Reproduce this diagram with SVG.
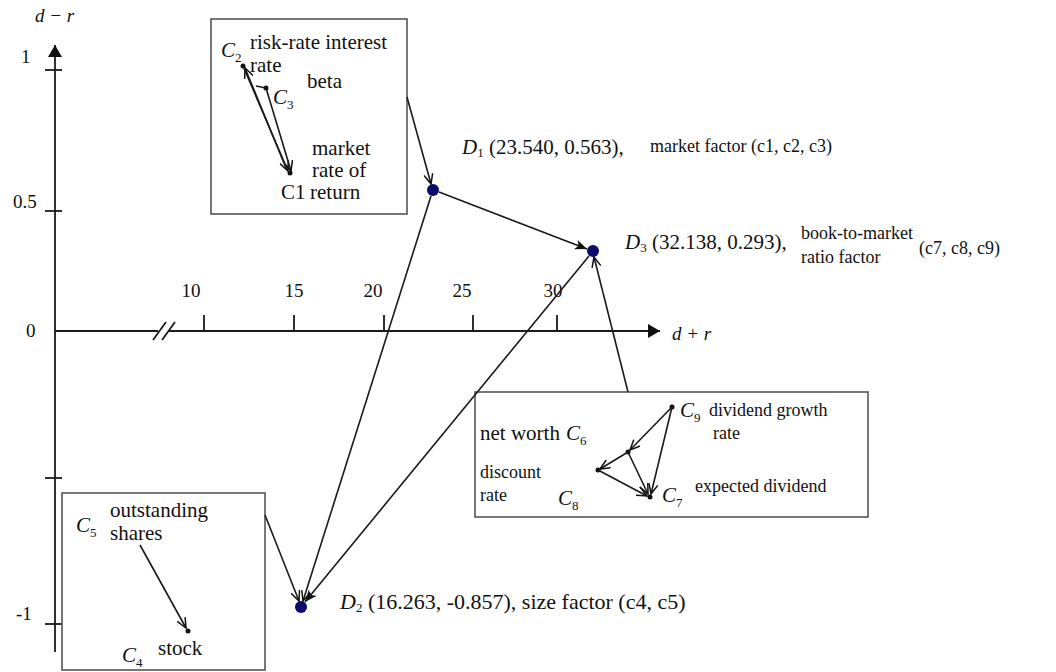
<svg xmlns="http://www.w3.org/2000/svg" width="1056" height="672" viewBox="0 0 1056 672">
<style>
.t{font-family:"Liberation Serif","Times New Roman",serif;font-size:21px;fill:#111}
.m{font-size:18px}
.sm{font-size:18px}
.big{font-size:22px}
.ax{font-family:"Liberation Serif","Times New Roman",serif;font-size:19px;fill:#111}
.i{font-style:italic}
.s{font-size:13px}
.box{fill:#fff;stroke:#555;stroke-width:1.6}
.ln{stroke:#1a1a1a;stroke-width:1.6;fill:none}
.axis{stroke:#1a1a1a;stroke-width:1.8;fill:none}
.pt{fill:#0b0b6b}
.dot{fill:#111}
</style>
<defs>
<marker id="fa" viewBox="0 0 12 10" refX="12" refY="5" markerWidth="12" markerHeight="10" markerUnits="userSpaceOnUse" orient="auto">
<path d="M0,0 L12,5 L0,10 L3,5 Z" fill="#111"/>
</marker>
<marker id="va" viewBox="0 0 12 10" refX="11" refY="5" markerWidth="12" markerHeight="10" markerUnits="userSpaceOnUse" orient="auto">
<path d="M1,0.5 L11,5 L1,9.5" fill="none" stroke="#111" stroke-width="1.5"/>
</marker>
<marker id="ah" viewBox="0 0 12 14" refX="12" refY="7" markerWidth="12" markerHeight="14" markerUnits="userSpaceOnUse" orient="auto">
<path d="M0,0 L12,7 L0,14 Z" fill="#111"/>
</marker>
</defs>

<g id="axes">
<line class="axis" x1="55" y1="652" x2="55" y2="45" marker-end="url(#ah)"/>
<line class="axis" x1="55" y1="331" x2="158" y2="331"/>
<line class="axis" x1="168" y1="331" x2="660" y2="331" marker-end="url(#ah)"/>
<line class="axis" x1="153" y1="340" x2="166" y2="322"/>
<line class="axis" x1="162" y1="340" x2="175" y2="322"/>
<g class="axis">
<line x1="45" y1="70" x2="62" y2="70"/>
<line x1="45" y1="211" x2="62" y2="211"/>
<line x1="45" y1="478" x2="62" y2="478"/>
<line x1="45" y1="624" x2="62" y2="624"/>
<line x1="204" y1="315" x2="204" y2="331"/>
<line x1="294" y1="315" x2="294" y2="331"/>
<line x1="384" y1="315" x2="384" y2="331"/>
<line x1="473" y1="315" x2="473" y2="331"/>
<line x1="557" y1="315" x2="557" y2="331"/>
</g>
<text class="ax i" x="35" y="22">d − r</text>
<text class="ax i" x="672" y="340">d + r</text>
<text class="ax" x="21" y="63">1</text>
<text class="ax" x="13" y="208">0.5</text>
<text class="ax" x="26" y="337">0</text>
<text class="ax" x="16" y="620">-1</text>
<text class="ax" x="191" y="297" text-anchor="middle">10</text>
<text class="ax" x="294" y="297" text-anchor="middle">15</text>
<text class="ax" x="373" y="297" text-anchor="middle">20</text>
<text class="ax" x="462" y="297" text-anchor="middle">25</text>
<text class="ax" x="553" y="297" text-anchor="middle">30</text>
</g>

<g id="box1">
<rect class="box" x="211" y="19" width="196" height="195"/>
<text class="t" x="221" y="57"><tspan class="i">C</tspan><tspan class="s" dy="5">2</tspan></text>
<text class="t" x="250" y="49">risk-rate interest</text>
<text class="t" x="250" y="72">rate</text>
<text class="t" x="307" y="88">beta</text>
<text class="t" x="273" y="104"><tspan class="i">C</tspan><tspan class="s" dy="5">3</tspan></text>
<text class="t" x="312" y="155">market</text>
<text class="t" x="312" y="177">rate of</text>
<text class="t" x="281" y="199">C1</text>
<text class="t" x="310" y="199">return</text>
<circle class="dot" cx="243" cy="66" r="2.5"/>
<circle class="dot" cx="266" cy="88" r="2.5"/>
<circle class="dot" cx="290" cy="173" r="2.5"/>
<line class="ln" x1="243" y1="66" x2="288" y2="171" marker-end="url(#va)"/>
<line class="ln" x1="266" y1="88" x2="291" y2="171" marker-end="url(#va)"/>
<line class="ln" x1="286" y1="168" x2="245" y2="68" marker-end="url(#va)"/>
<line class="ln" x1="266" y1="88" x2="256" y2="86"/>
</g>

<g id="box2">
<rect class="box" x="475" y="392" width="393" height="125"/>
<text class="t" x="480" y="440">net worth</text>
<text class="t" x="566" y="440"><tspan class="i">C</tspan><tspan class="s" dy="5">6</tspan></text>
<text class="t m" x="480" y="478">discount</text>
<text class="t m" x="480" y="501">rate</text>
<text class="t" x="558" y="505"><tspan class="i">C</tspan><tspan class="s" dy="5">8</tspan></text>
<text class="t" x="680" y="417"><tspan class="i">C</tspan><tspan class="s" dy="5">9</tspan></text>
<text class="t m" x="709" y="416">dividend growth</text>
<text class="t m" x="713" y="439">rate</text>
<text class="t" x="662" y="502"><tspan class="i">C</tspan><tspan class="s" dy="5">7</tspan></text>
<text class="t m" x="695" y="492">expected dividend</text>
<circle class="dot" cx="672" cy="407" r="2.5"/>
<circle class="dot" cx="628" cy="452" r="2.5"/>
<circle class="dot" cx="598" cy="470" r="2.5"/>
<circle class="dot" cx="650" cy="497" r="2.5"/>
<line class="ln" x1="672" y1="407" x2="630" y2="450" marker-end="url(#va)"/>
<line class="ln" x1="628" y1="452" x2="600" y2="469" marker-end="url(#va)"/>
<line class="ln" x1="628" y1="452" x2="648" y2="494" marker-end="url(#va)"/>
<line class="ln" x1="598" y1="470" x2="647" y2="496" marker-end="url(#va)"/>
<line class="ln" x1="672" y1="407" x2="651" y2="494" marker-end="url(#va)"/>
</g>

<g id="box3">
<rect class="box" x="62" y="493" width="203" height="177"/>
<text class="t" x="76" y="532"><tspan class="i">C</tspan><tspan class="s" dy="5">5</tspan></text>
<text class="t" x="110" y="517">outstanding</text>
<text class="t" x="110" y="540">shares</text>
<text class="t" x="158" y="655">stock</text>
<text class="t" x="122" y="662"><tspan class="i">C</tspan><tspan class="s" dy="5">4</tspan></text>
<circle class="dot" cx="188" cy="631" r="2.5"/>
<line class="ln" x1="140" y1="545" x2="186" y2="628" marker-end="url(#va)"/>
</g>

<g id="D1">
<circle class="pt" cx="433" cy="190" r="6"/>
<text class="t" x="462" y="154"><tspan class="i">D</tspan><tspan class="s" dy="3">1</tspan><tspan dy="-3"> (23.540, 0.563),</tspan></text>
<text class="t sm" x="650" y="152">market factor (c1, c2, c3)</text>
</g>
<g id="D3">
<circle class="pt" cx="593" cy="251" r="6"/>
<text class="t" x="625" y="249"><tspan class="i">D</tspan><tspan class="s" dy="3">3</tspan><tspan dy="-3"> (32.138, 0.293),</tspan></text>
<text class="t sm" x="801" y="239">book-to-market</text>
<text class="t sm" x="801" y="263">ratio factor</text>
<text class="t m" x="919" y="254">(c7, c8, c9)</text>
</g>
<g id="D2">
<circle class="pt" cx="301" cy="607" r="6"/>
<text class="t big" x="340" y="609"><tspan class="i">D</tspan><tspan class="s" dy="3">2</tspan><tspan dy="-3"> (16.263, -0.857), size factor (c4, c5)</tspan></text>
</g>

<g id="connectors">
<line class="ln" x1="407" y1="97" x2="431" y2="184" marker-end="url(#va)"/>
<line class="ln" x1="439" y1="192" x2="587" y2="249" marker-end="url(#fa)"/>
<line class="ln" x1="431" y1="196" x2="303" y2="601" marker-end="url(#va)"/>
<line class="ln" x1="589" y1="256" x2="305" y2="602" marker-end="url(#fa)"/>
<line class="ln" x1="628" y1="392" x2="594" y2="257" marker-end="url(#va)"/>
<line class="ln" x1="265" y1="515" x2="299" y2="601" marker-end="url(#va)"/>
</g>
</svg>
